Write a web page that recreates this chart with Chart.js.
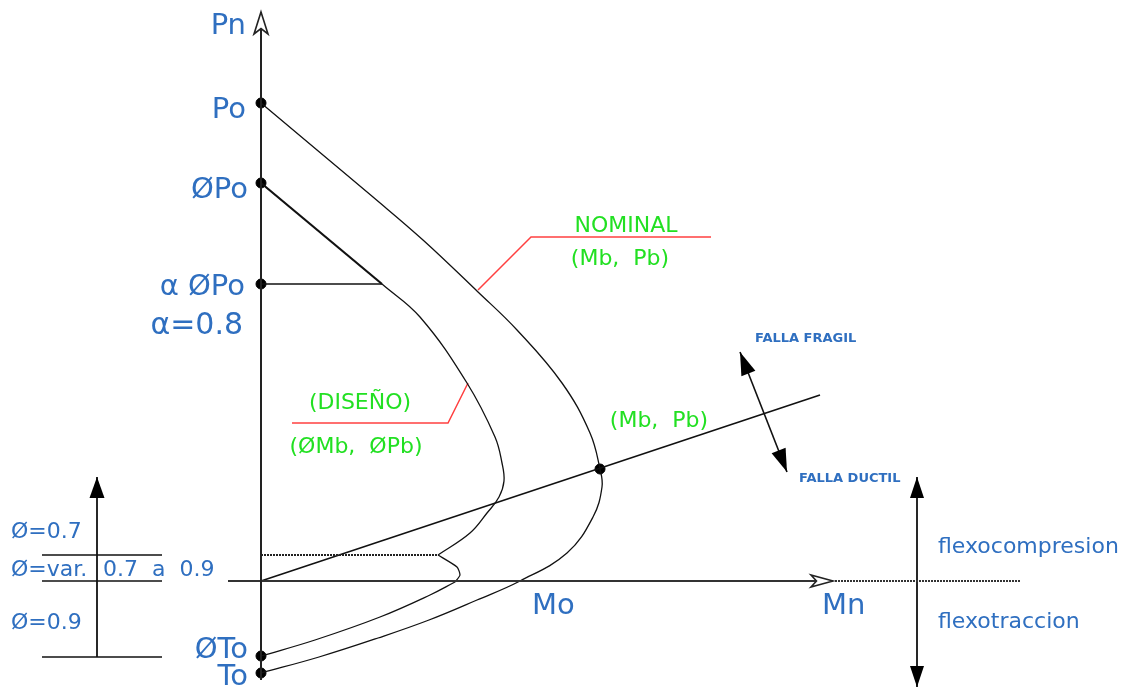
<!DOCTYPE html>
<html>
<head>
<meta charset="utf-8">
<script src="https://cdn.jsdelivr.net/npm/chart.js@4/dist/chart.umd.min.js"></script>
<style>
  html, body { margin: 0; padding: 0; background: #fff; overflow: hidden; }
  #diagram { display: block; }
</style>
</head>
<body>
<canvas id="diagram" width="1129" height="698"></canvas>
<script>
// Interaction diagram (Mn, Pn), units are drawing units on the M and P axes
const Po = 478, phiPo = 398, alphaPhiPo = 297, phiTo = -75, To = -92;
const balanced = [339, 112];

const nominalCurve = [
    [0, Po], [56, 431], [112, 384], [162, 341], [217, 289], [256, 251], [301, 198], [329, 148],
    balanced, [341, 94], [332, 64], [306, 28], [259, 0], [216, -19], [168, -39], [117, -57], [58, -76], [0, To]
];
const designTop = [[0, phiPo], [121, alphaPhiPo]];
const designCurve = [
    [121, alphaPhiPo], [159, 264], [206, 198], [234, 144], [241, 118], [243, 100],
    [238, 84], [226, 68], [209, 48], [177, 26]
];
const designKnee = [[177, 26], [196, 14], [199, 6], [194, -1]];
const designTension = [[194, -1], [169, -14], [119, -36], [54, -59], [0, phiTo]];
const alphaCap = [[0, alphaPhiPo], [121, alphaPhiPo]];
const transitionLine = [[0, 26], [177, 26]];

const axisP = [[0, -99], [0, 569]];
const axisM = [[-33, 0], [572, 0]];
const axisMExt = [[574, 0], [759, 0]];
const balanceLine = [[0, 0], [559, 186]];
const fallaArrow = [[479, 229], [526, 109]];
const flexoArrow = [[656, 104], [656, -106]];
const phiArrow = [[-164, -76], [-164, 104]];
const phiBandTop = [[-219, 26], [-99, 26]];
const phiBandMid = [[-219, 0], [-99, 0]];
const phiBandLow = [[-219, -76], [-99, -76]];
const leaderNominal = [[217, 291], [270, 344], [450, 344]];
const leaderDesign = [[207, 198], [187, 158], [31, 158]];

const markedPoints = [[0, Po], [0, phiPo], [0, alphaPhiPo], [0, phiTo], [0, To], balanced];

const BLUE = '#2f6fc0', GREEN = '#22e022', RED = '#ff4040';
const FONT = '"DejaVu Sans", sans-serif';

const labels = [
    { text: 'Pn', at: [-15, 555], size: 29, align: 'right' },
    { text: 'Po', at: [-15, 471], size: 29, align: 'right' },
    { text: 'ØPo', at: [-13, 391], size: 29, align: 'right' },
    { text: 'α ØPo', at: [-16, 294], size: 29, align: 'right' },
    { text: 'α=0.8', at: [-18, 255], size: 30, align: 'right' },
    { text: 'ØTo', at: [-13, -69], size: 29, align: 'right' },
    { text: 'To', at: [-13, -96], size: 29, align: 'right' },
    { text: 'Mo', at: [271, -25], size: 29, align: 'left' },
    { text: 'Mn', at: [561, -25], size: 29, align: 'left' },
    { text: 'Ø=0.7', at: [-250, 49], size: 22, align: 'left' },
    { text: 'Ø=var.', at: [-250, 11], size: 22, align: 'left' },
    { text: '0.7  a  0.9', at: [-158, 11], size: 22, align: 'left' },
    { text: 'Ø=0.9', at: [-250, -42], size: 22, align: 'left' },
    { text: 'flexocompresion', at: [677, 34], size: 22, align: 'left' },
    { text: 'flexotraccion', at: [677, -41], size: 22, align: 'left' },
    { text: 'FALLA FRAGIL', at: [494, 242], size: 13, align: 'left', bold: true },
    { text: 'FALLA DUCTIL', at: [538, 102], size: 13, align: 'left', bold: true },
    { text: 'NOMINAL', at: [365, 355], size: 22, align: 'center', color: GREEN },
    { text: '(Mb,  Pb)', at: [359, 322], size: 22, align: 'center', color: GREEN },
    { text: '(DISEÑO)', at: [99, 178], size: 22, align: 'center', color: GREEN },
    { text: '(ØMb,  ØPb)', at: [95, 134], size: 22, align: 'center', color: GREEN },
    { text: '(Mb,  Pb)', at: [398, 160], size: 22, align: 'center', color: GREEN }
];

// arrow heads: which end of which segment, open or filled
const arrowHeads = [
    { seg: axisP, end: 1, open: true, len: 22, half: 7 },
    { seg: axisM, end: 1, open: true, len: 22, half: 6 },
    { seg: fallaArrow, end: 0, len: 23, half: 7.5 },
    { seg: fallaArrow, end: 1, len: 23, half: 7.5 },
    { seg: flexoArrow, end: 0, len: 21, half: 7 },
    { seg: flexoArrow, end: 1, len: 21, half: 7 },
    { seg: phiArrow, end: 1, len: 21, half: 7.5 }
];

function line(points, opts) {
    return Object.assign({
        data: points.map(p => ({ x: p[0], y: p[1] })),
        showLine: true,
        pointRadius: 0,
        borderColor: '#111',
        borderWidth: 1.3,
        tension: 0,
        fill: false
    }, opts || {});
}

const arrowPlugin = {
    id: 'arrowHeads',
    afterDatasetsDraw(chart) {
        const { ctx, scales: { x, y } } = chart;
        arrowHeads.forEach(a => {
            const tip = a.seg[a.end], tail = a.seg[1 - a.end];
            const tx = x.getPixelForValue(tip[0]), ty = y.getPixelForValue(tip[1]);
            const bx = x.getPixelForValue(tail[0]), by = y.getPixelForValue(tail[1]);
            const ang = Math.atan2(ty - by, tx - bx);
            const cx = tx - a.len * Math.cos(ang), cy = ty - a.len * Math.sin(ang);
            const nx = -Math.sin(ang) * a.half, ny = Math.cos(ang) * a.half;
            ctx.save();
            ctx.beginPath();
            ctx.moveTo(tx, ty);
            ctx.lineTo(cx + nx, cy + ny);
            if (a.open) ctx.lineTo(cx + 0.25 * a.len * Math.cos(ang), cy + 0.25 * a.len * Math.sin(ang));
            ctx.lineTo(cx - nx, cy - ny);
            ctx.closePath();
            if (a.open) {
                ctx.fillStyle = '#fff';
                ctx.fill();
                ctx.strokeStyle = '#222';
                ctx.lineWidth = 1.6;
                ctx.stroke();
            } else {
                ctx.fillStyle = '#000';
                ctx.fill();
            }
            ctx.restore();
        });
    }
};

const labelPlugin = {
    id: 'diagramLabels',
    afterDraw(chart) {
        const { ctx, scales: { x, y } } = chart;
        ctx.save();
        ctx.textBaseline = 'middle';
        labels.forEach(l => {
            ctx.font = (l.bold ? 'bold ' : '') + l.size + 'px ' + FONT;
            ctx.fillStyle = l.color || BLUE;
            ctx.textAlign = l.align;
            ctx.fillText(l.text, x.getPixelForValue(l.at[0]), y.getPixelForValue(l.at[1]));
        });
        ctx.restore();
    }
};

new Chart(document.getElementById('diagram'), {
    type: 'scatter',
    data: {
        datasets: [
            line(axisP, { borderColor: '#222', borderWidth: 2 }),
            line(axisM, { borderColor: '#333', borderWidth: 2 }),
            line(axisMExt, { borderColor: '#333', borderWidth: 2.2, borderDash: [2, 1] }),
            line(nominalCurve, { tension: 0.4 }),
            line(designTop, { borderWidth: 2.2 }),
            line(designCurve, { tension: 0.4 }),
            line(designKnee, { tension: 0.2 }),
            line(designTension, { tension: 0.4 }),
            line(alphaCap, { borderWidth: 1.6 }),
            line(transitionLine, { borderColor: '#222', borderWidth: 2.2, borderDash: [2, 1] }),
            line(balanceLine, { borderWidth: 1.6 }),
            line(fallaArrow, { borderWidth: 1.6 }),
            line(flexoArrow, { borderWidth: 1.8 }),
            line(phiArrow, { borderWidth: 1.8 }),
            line(phiBandTop, { borderWidth: 1.6 }),
            line(phiBandMid, { borderWidth: 1.6 }),
            line(phiBandLow, { borderWidth: 1.6 }),
            line(leaderNominal, { borderColor: RED, borderWidth: 1.5 }),
            line(leaderDesign, { borderColor: RED, borderWidth: 1.5 }),
            {
                data: markedPoints.map(p => ({ x: p[0], y: p[1] })),
                showLine: false,
                pointRadius: 5,
                pointBackgroundColor: '#000',
                pointBorderColor: '#000'
            }
        ]
    },
    options: {
        responsive: false,
        animation: false,
        events: [],
        layout: { padding: 0, autoPadding: false },
        scales: {
            x: { type: 'linear', min: -261, max: 868, display: false },
            y: { type: 'linear', min: -117, max: 581, display: false }
        },
        plugins: {
            legend: { display: false },
            tooltip: { enabled: false }
        }
    },
    plugins: [arrowPlugin, labelPlugin]
});
</script>
</body>
</html>
